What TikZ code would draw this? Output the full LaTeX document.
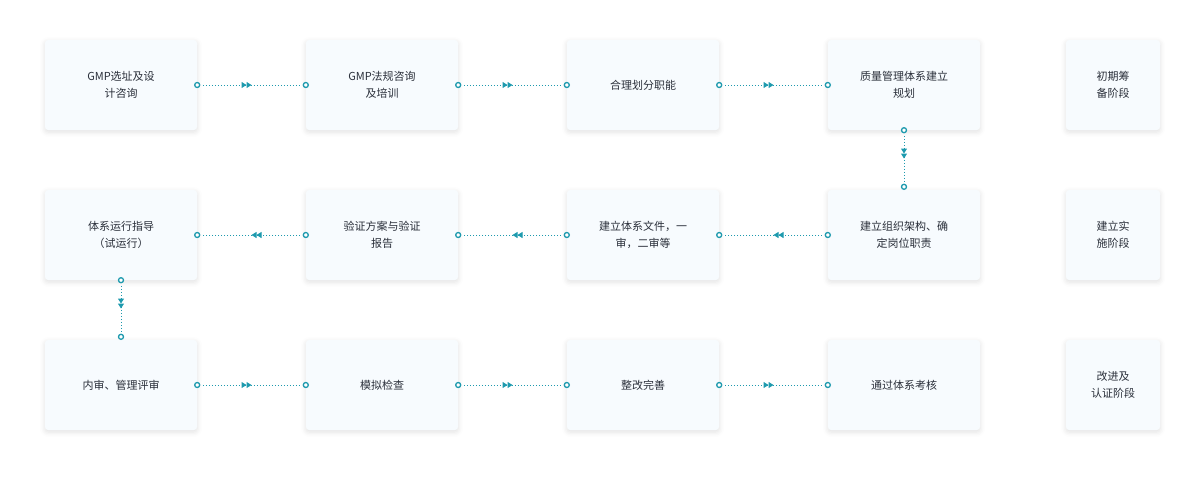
\documentclass[tikz,border=0pt]{standalone}
\usepackage{fontspec}
\setmainfont{Noto Sans CJK SC}
\usetikzlibrary{arrows.meta,decorations.markings,shadows.blur}
\definecolor{boxfill}{HTML}{F7FBFE}
\definecolor{linkc}{HTML}{1E9AAE}
\definecolor{txt}{HTML}{2A2F3A}
\tikzset{
  stepbox/.style={rectangle, rounded corners=3pt, fill=boxfill, minimum width=152pt, minimum height=90pt,
    align=center, font=\fontsize{11}{17}\selectfont, text=txt,
    blur shadow={shadow xshift=0pt, shadow yshift=-2pt, shadow blur radius=5pt, shadow opacity=12}},
  phasebox/.style={stepbox, minimum width=94pt},
  endc/.style={circle, draw=linkc, line width=1.3pt, fill=white, inner sep=0pt, minimum size=5pt},
  link/.style={linkc, dotted, line width=1pt, shorten <=2.5pt, shorten >=2.5pt,
    postaction={decorate, decoration={markings, mark=at position 0.5 with {\arrow[solid]{Triangle[length=5pt,width=6pt] Triangle[length=5pt,width=6pt]}}}}}
}
\begin{document}
\begin{tikzpicture}[x=1pt, y=-1pt]
    \useasboundingbox (0,0) rectangle (1204,491);
    % first row
    \node[stepbox] (a1) at (121,85) {GMP选址及设\\计咨询};
    \node[stepbox] (a2) at (382,85) {GMP法规咨询\\及培训};
    \node[stepbox] (a3) at (643,85) {合理划分职能};
    \node[stepbox] (a4) at (904,85) {质量管理体系建立\\规划};
    \node[phasebox] (p1) at (1113,85) {初期筹\\备阶段};
    % second row
    \node[stepbox] (b1) at (121,235) {体系运行指导\\（试运行）};
    \node[stepbox] (b2) at (382,235) {验证方案与验证\\报告};
    \node[stepbox] (b3) at (643,235) {建立体系文件，一\\审，二审等};
    \node[stepbox] (b4) at (904,235) {建立组织架构、确\\定岗位职责};
    \node[phasebox] (p2) at (1113,235) {建立实\\施阶段};
    % third row
    \node[stepbox] (c1) at (121,385) {内审、管理评审};
    \node[stepbox] (c2) at (382,385) {模拟检查};
    \node[stepbox] (c3) at (643,385) {整改完善};
    \node[stepbox] (c4) at (904,385) {通过体系考核};
    \node[phasebox] (p3) at (1113,385) {改进及\\认证阶段};
    % link ends
    \foreach \n in {a1,a2,a3,b1,b2,b3,c1,c2,c3}
      \node[endc] (\n e) at (\n.east) {};
    \foreach \n in {a2,a3,a4,b2,b3,b4,c2,c3,c4}
      \node[endc] (\n w) at (\n.west) {};
    \node[endc] (a4s) at (a4.south) {};
    \node[endc] (b4n) at ([yshift=3pt]b4.north) {};
    \node[endc] (b1s) at (b1.south) {};
    \node[endc] (c1n) at ([yshift=3pt]c1.north) {};
    % links
    \draw[link] (a1e) -- (a2w);
    \draw[link] (a2e) -- (a3w);
    \draw[link] (a3e) -- (a4w);
    \draw[link] (a4s) -- (b4n);
    \draw[link] (b4w) -- (b3e);
    \draw[link] (b3w) -- (b2e);
    \draw[link] (b2w) -- (b1e);
    \draw[link] (b1s) -- (c1n);
    \draw[link] (c1e) -- (c2w);
    \draw[link] (c2e) -- (c3w);
    \draw[link] (c3e) -- (c4w);
\end{tikzpicture}
\end{document}
